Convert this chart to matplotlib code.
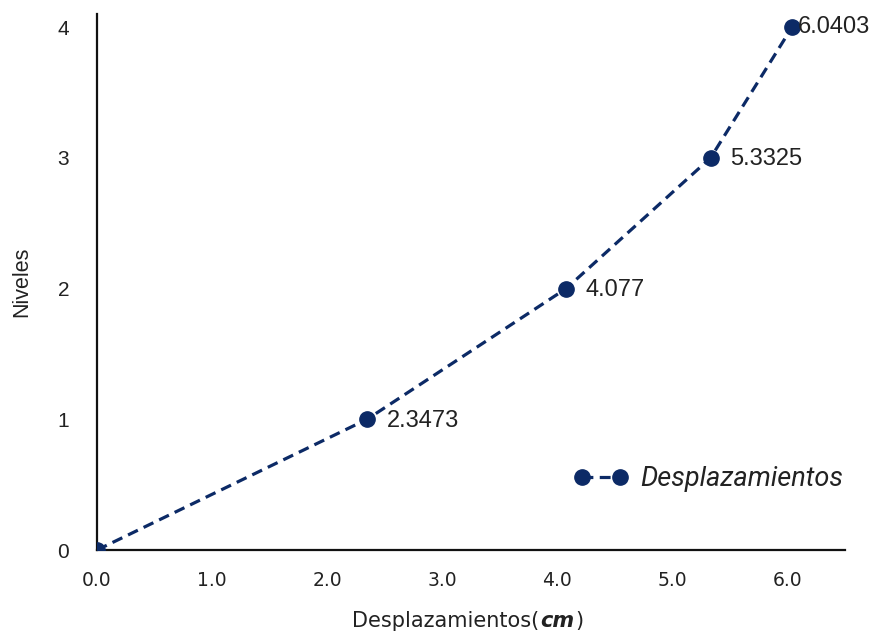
import matplotlib
matplotlib.use("Agg")
import matplotlib.pyplot as plt

desplazamientos = [0.0, 2.3473, 4.077, 5.3325, 6.0403]
niveles = [0, 1, 2, 3, 4]
etiquetas = ["2.3473", "4.077", "5.3325", "6.0403"]
xticks = [0.0, 1.0, 2.0, 3.0, 4.0, 5.0, 6.0]
yticks = [0, 1, 2, 3, 4]

color = "#0C2A66"
tcol = "#222222"

fig = plt.figure(figsize=(8.8, 6.34), dpi=100)
ax = fig.add_axes([97/880, 1-550/634, (845-97)/880, (550-14)/634])

ax.plot(desplazamientos, niveles, color=color, lw=2.3, ls=(0, (3.4, 2.0)),
        marker="o", ms=11, markeredgecolor=color, markerfacecolor=color,
        label="Desplazamientos", zorder=3)

offsets = [(14, -1), (14, -1), (14, -1), (4, 0)]
for x, y, t, off in zip(desplazamientos[1:], niveles[1:], etiquetas, offsets):
    ax.annotate(t, (x, y), xytext=off, textcoords="offset points",
                ha="left", va="center", fontsize=17,
                family="Liberation Sans", color=tcol)

ax.set_xlim(0, 6.5)
ax.set_ylim(0, 4.1)
ax.set_xticks(xticks)
ax.set_xticklabels([f"{v:.1f}" for v in xticks], family="DejaVu Sans",
                   fontsize=13.5, color=tcol)
ax.set_yticks(yticks)
ax.set_yticklabels([str(v) for v in yticks], family="Liberation Sans",
                   fontsize=15, color=tcol)
ax.tick_params(axis="x", length=0, pad=15)
ax.tick_params(axis="y", length=0, pad=20)

for s in ["top", "right"]:
    ax.spines[s].set_visible(False)
for s in ["left", "bottom"]:
    ax.spines[s].set_linewidth(1.6)
    ax.spines[s].set_color("#111111")

ax.set_ylabel("Niveles", family="Liberation Sans", fontsize=15.5, color=tcol,
              labelpad=18)

# x label composed of regular + bold italic parts
ylab = 1 - 621/634
fig.canvas.draw()
renderer = fig.canvas.get_renderer()
parts = [("Desplazamientos(", {}), ("cm", {"weight": "bold", "style": "italic"}), (")", {})]
xpos = 352
for txt, kw in parts:
    t = fig.text(xpos/880, ylab, txt, family="DejaVu Sans", fontsize=15,
                 color=tcol, ha="left", va="center", **kw)
    bb = t.get_window_extent(renderer=renderer)
    xpos = bb.x1 + 1

leg = ax.legend(loc="center left", bbox_to_anchor=(0.605, 0.132), frameon=False,
                numpoints=2, handlelength=2.0, handletextpad=0.45,
                prop={"family": "Roboto", "style": "italic", "size": 19.5})
for t in leg.get_texts():
    t.set_color(tcol)

fig.savefig("out.png", dpi=100)
